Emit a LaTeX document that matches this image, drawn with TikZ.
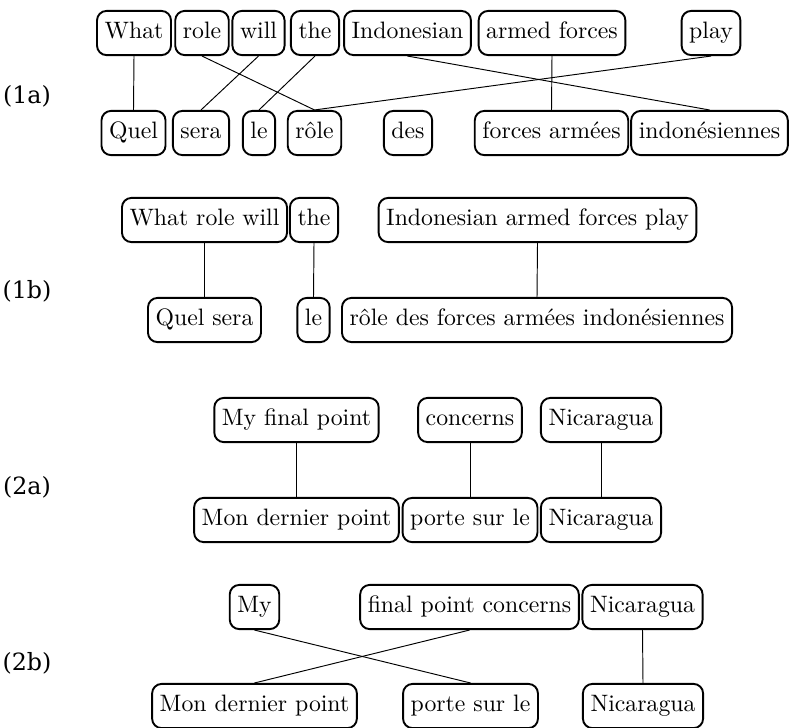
\documentclass[tikz,border=0pt]{standalone}
\usepackage{fontspec}
\newfontfamily\exlabelfont{DejaVu Serif}
\tikzset{word/.style={draw,rounded corners=4pt,line width=0.8pt,inner xsep=3.2pt,inner ysep=4.8pt,text height=7pt,text depth=2pt}}
\tikzset{exlabel/.style={font=\exlabelfont}}
\begin{document}
\begin{tikzpicture}[x=0.421pt,y=-0.421pt]
\useasboundingbox (0,0) rectangle (789,727);
% (1a)
\node[exlabel] (lab1a) at (27,96) {(1a)};
\node[word] (en1a1) at (134,33) {What};
\node[word] (en1a2) at (202,33) {role};
\node[word] (en1a3) at (258.5,33) {will};
\node[word] (en1a4) at (315,33) {the};
\node[word] (en1a5) at (407.5,33) {Indonesian};
\node[word] (en1a6) at (552,33) {armed forces};
\node[word] (en1a7) at (711,33) {play};
\node[word] (fr1a1) at (133.5,133) {Quel};
\node[word] (fr1a2) at (201,133) {sera};
\node[word] (fr1a3) at (259,133) {le};
\node[word] (fr1a4) at (314.5,133) {rôle};
\node[word] (fr1a5) at (408,133) {des};
\node[word] (fr1a6) at (551.5,133) {forces armées};
\node[word] (fr1a7) at (709.5,133) {indonésiennes};
\draw (en1a1.south) -- (fr1a1.north);
\draw (en1a2.south) -- (fr1a4.north);
\draw (en1a3.south) -- (fr1a2.north);
\draw (en1a4.south) -- (fr1a3.north);
\draw (en1a5.south) -- (fr1a7.north);
\draw (en1a6.south) -- (fr1a6.north);
\draw (en1a7.south) -- (fr1a4.north);
% (1b)
\node[exlabel] (lab1b) at (27,291) {(1b)};
\node[word] (en1b1) at (204.5,220) {What role will};
\node[word] (en1b2) at (314,220) {the};
\node[word] (en1b3) at (537.5,220) {Indonesian armed forces play};
\node[word] (fr1b1) at (204.5,320) {Quel sera};
\node[word] (fr1b2) at (313.5,320) {le};
\node[word] (fr1b3) at (537,320) {rôle des forces armées indonésiennes};
\draw (en1b1.south) -- (fr1b1.north);
\draw (en1b2.south) -- (fr1b2.north);
\draw (en1b3.south) -- (fr1b3.north);
% (2a)
\node[exlabel] (lab2a) at (27,487) {(2a)};
\node[word] (en2a1) at (296.5,420) {My final point};
\node[word] (en2a2) at (470,420) {concerns};
\node[word] (en2a3) at (601,420) {Nicaragua};
\node[word] (fr2a1) at (296.5,520) {Mon dernier point};
\node[word] (fr2a2) at (470,520) {porte sur le};
\node[word] (fr2a3) at (601,520) {Nicaragua};
\draw (en2a1.south) -- (fr2a1.north);
\draw (en2a2.south) -- (fr2a2.north);
\draw (en2a3.south) -- (fr2a3.north);
% (2b)
\node[exlabel] (lab2b) at (27,663) {(2b)};
\node[word] (en2b1) at (254.5,607) {My};
\node[word] (en2b2) at (469.5,607) {final point concerns};
\node[word] (en2b3) at (642.5,607) {Nicaragua};
\node[word] (fr2b1) at (254.5,706) {Mon dernier point};
\node[word] (fr2b2) at (470.5,706) {porte sur le};
\node[word] (fr2b3) at (643,706) {Nicaragua};
\draw (en2b1.south) -- (fr2b2.north);
\draw (en2b2.south) -- (fr2b1.north);
\draw (en2b3.south) -- (fr2b3.north);
\end{tikzpicture}
\end{document}
